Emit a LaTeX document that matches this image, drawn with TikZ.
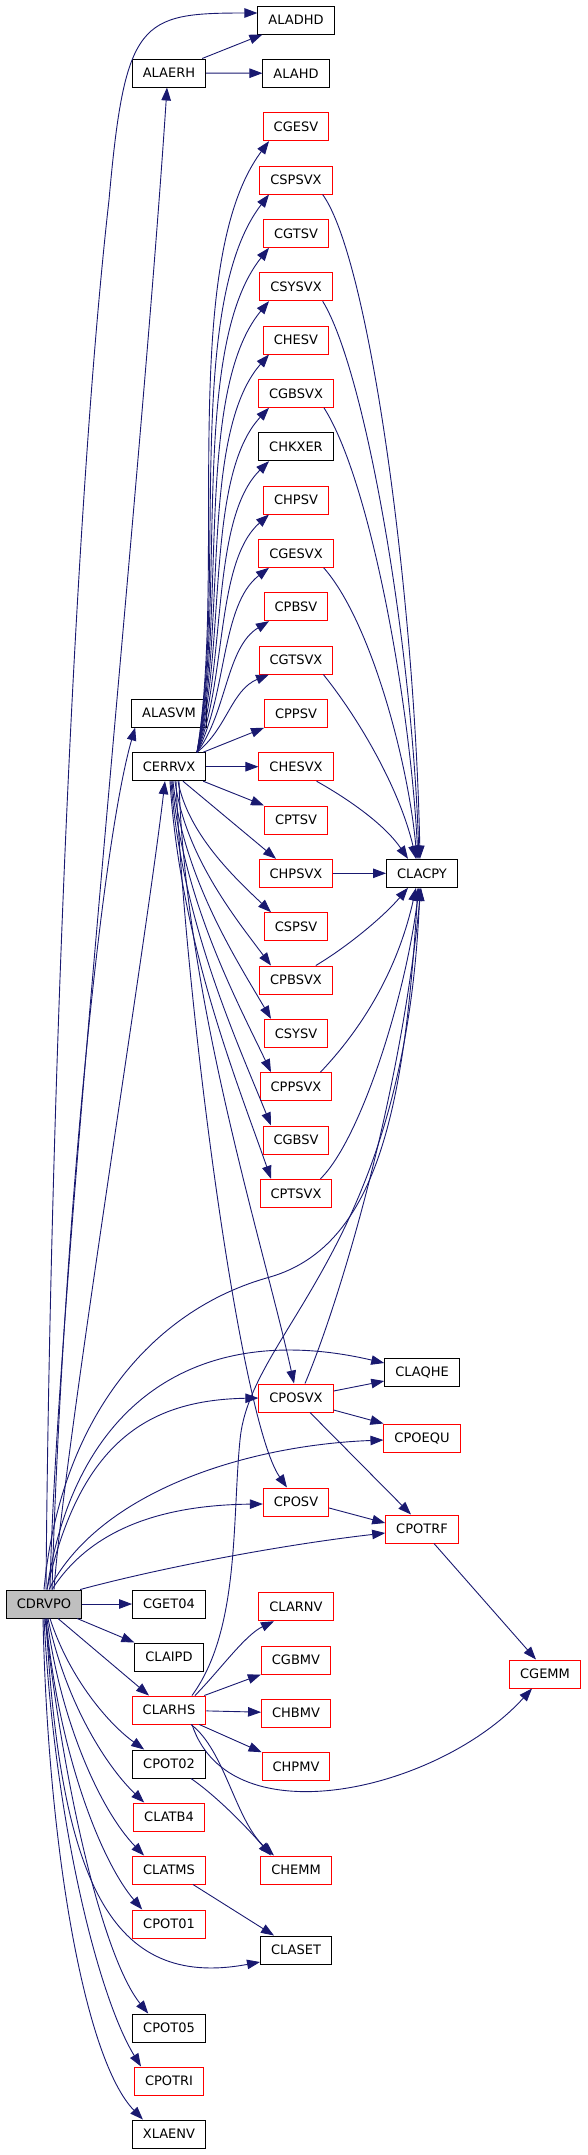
\documentclass[tikz,border=0pt]{standalone}
\usepackage{fontspec}
\setmainfont{DejaVu Sans}
\usetikzlibrary{arrows.meta,calc}
\definecolor{edgec}{HTML}{191970}
\definecolor{redb}{HTML}{FF0000}
\definecolor{grayf}{HTML}{BFBFBF}
\tikzset{
  fnbox/.style={line width=1pt, minimum height=28pt, inner xsep=10.5pt, inner ysep=0pt,
    font=\fontsize{13}{14}\selectfont, fill=white},
  kbox/.style={fnbox, draw=black},
  rbox/.style={fnbox, draw=redb},
  rootbox/.style={fnbox, draw=black, fill=grayf},
  conn/.style={draw=edgec, line width=0.9pt, -{Triangle[length=13pt,width=9.5pt]}}
}
\begin{document}
\begin{tikzpicture}[x=1pt,y=-1pt]
\useasboundingbox (0,0) rectangle (587,2155);
% column 2
\node[kbox] (alaerh) at (169,73) {ALAERH};
\node[kbox] (alasvm) at (169,713) {ALASVM};
\node[kbox] (cerrvx) at (169,766.7) {CERRVX};
\node[kbox] (cget04) at (169,1604) {CGET04};
\node[kbox] (claipd) at (169,1657) {CLAIPD};
\node[rbox] (clarhs) at (169,1710) {CLARHS};
\node[kbox] (cpot02) at (169,1764) {CPOT02};
\node[rbox] (clatb4) at (169,1817) {CLATB4};
\node[rbox] (clatms) at (169,1870) {CLATMS};
\node[rbox] (cpot01) at (169,1924) {CPOT01};
\node[kbox] (cpot05) at (169,2028) {CPOT05};
\node[rbox] (cpotri) at (169,2081) {CPOTRI};
\node[kbox] (xlaenv) at (169,2134) {XLAENV};
% column 3
\node[kbox] (aladhd) at (296,20) {ALADHD};
\node[kbox] (alahd) at (296,73.3) {ALAHD};
\node[rbox] (cgesv) at (296,126.7) {CGESV};
\node[rbox] (cspsvx) at (296,180) {CSPSVX};
\node[rbox] (cgtsv) at (296,233.3) {CGTSV};
\node[rbox] (csysvx) at (296,286.7) {CSYSVX};
\node[rbox] (chesv) at (296,340) {CHESV};
\node[rbox] (cgbsvx) at (296,393.3) {CGBSVX};
\node[kbox] (chkxer) at (296,446.7) {CHKXER};
\node[rbox] (chpsv) at (296,500) {CHPSV};
\node[rbox] (cgesvx) at (296,553.3) {CGESVX};
\node[rbox] (cpbsv) at (296,606.7) {CPBSV};
\node[rbox] (cgtsvx) at (296,660) {CGTSVX};
\node[rbox] (cppsv) at (296,713.3) {CPPSV};
\node[rbox] (chesvx) at (296,766.7) {CHESVX};
\node[rbox] (cptsv) at (296,820) {CPTSV};
\node[rbox] (chpsvx) at (296,873.3) {CHPSVX};
\node[rbox] (cspsv) at (296,926.7) {CSPSV};
\node[rbox] (cpbsvx) at (296,980) {CPBSVX};
\node[rbox] (csysv) at (296,1033.3) {CSYSV};
\node[rbox] (cppsvx) at (296,1086.7) {CPPSVX};
\node[rbox] (cgbsv) at (296,1140) {CGBSV};
\node[rbox] (cptsvx) at (296,1193.3) {CPTSVX};
\node[rbox] (cposvx) at (296,1398) {CPOSVX};
\node[rbox] (cposv) at (296,1502) {CPOSV};
\node[rbox] (clarnv) at (296,1606.7) {CLARNV};
\node[rbox] (cgbmv) at (296,1660) {CGBMV};
\node[rbox] (chbmv) at (296,1713) {CHBMV};
\node[rbox] (chpmv) at (296,1766.7) {CHPMV};
\node[rbox] (chemm) at (296,1870) {CHEMM};
\node[kbox] (claset) at (296,1950) {CLASET};
% column 4, 5
\node[kbox] (clacpy) at (422,873.3) {CLACPY};
\node[kbox] (claqhe) at (422,1372) {CLAQHE};
\node[rbox] (cpoequ) at (422,1438) {CPOEQU};
\node[rbox] (cpotrf) at (422,1529) {CPOTRF};
\node[rbox] (cgemm) at (545,1674) {CGEMM};
% root
\node[rootbox] (cdrvpo) at (44,1604) {CDRVPO};

% ALAERH
\draw[conn] ([xshift=-4pt]alaerh.north east) -- ([xshift=5pt]aladhd.south west);
\draw[conn] (alaerh) -- (alahd);

% CDRVPO upward
\draw[conn] ([xshift=2pt]cdrvpo.north) .. controls (50,1100) and (75,500) .. (109,200)
  .. controls (125,20) and (140,13) .. ($(aladhd.west)+(0,-7)$);
\draw[conn] ([xshift=6pt]cdrvpo.north) .. controls (56,1300) and (140,500) .. ([xshift=-2pt]alaerh.south);
\draw[conn] ([xshift=8pt]cdrvpo.north) .. controls (62,1250) and (100,850) .. ([xshift=4pt]alasvm.south west);
\draw[conn] ([xshift=10pt]cdrvpo.north) .. controls (64,1450) and (145,950) .. ([xshift=-4pt]cerrvx.south);
\draw[conn] (cdrvpo.north) .. controls (60,1420) and (150,1310) .. (270,1277)
  .. controls (380,1245) and (405,1100) .. ([xshift=-4pt]clacpy.south);
\draw[conn] ([xshift=3pt]cdrvpo.north) .. controls (75,1400) and (200,1320) .. ($(claqhe.west)+(0,-9)$);
\draw[conn] ([xshift=3pt]cdrvpo.north) .. controls (80,1440) and (150,1400) .. (cposvx.west);
\draw[conn] ([xshift=5pt]cdrvpo.north) .. controls (100,1490) and (250,1445) .. ($(cpoequ.west)+(0,2)$);
\draw[conn] ([xshift=8pt]cdrvpo.north) .. controls (90,1530) and (160,1505) .. ($(cposv.west)+(0,2)$);
\draw[conn] ([xshift=-2pt]cdrvpo.north east) .. controls (160,1568) and (280,1545) .. ($(cpotrf.west)+(0,4)$);

% CDRVPO right / downward
\draw[conn] (cdrvpo) -- (cget04);
\draw[conn] ([xshift=-5pt]cdrvpo.south east) -- (claipd.north west);
\draw[conn] ([xshift=14pt]cdrvpo.south) -- ([xshift=-20pt]clarhs.north);
\draw[conn] ([xshift=6pt]cdrvpo.south) .. controls (70,1680) and (110,1725) .. ([xshift=12pt]cpot02.north west);
\draw[conn] ([xshift=4pt]cdrvpo.south) .. controls (65,1700) and (105,1765) .. ([xshift=11pt]clatb4.north west);
\draw[conn] ([xshift=3pt]cdrvpo.south) .. controls (60,1720) and (100,1810) .. ([xshift=12pt]clatms.north west);
\draw[conn] ([xshift=2pt]cdrvpo.south) .. controls (58,1750) and (100,1860) .. ([xshift=10pt]cpot01.north west);
\draw[conn] ([xshift=2pt]cdrvpo.south) .. controls (60,1880) and (110,1990) .. ($(claset.west)+(0,12)$);
\draw[conn] ([xshift=1pt]cdrvpo.south) .. controls (65,1800) and (105,1960) .. ([xshift=16pt]cpot05.north west);
\draw[conn] (cdrvpo.south) .. controls (55,1830) and (100,2000) .. ([xshift=7pt]cpotri.north west);
\draw[conn] ([xshift=-1pt]cdrvpo.south) .. controls (48,1850) and (85,2060) .. ([xshift=11pt]xlaenv.north west);

% CERRVX upward fan
\foreach \t/\d in {cgesv/611, cspsvx/558, cgtsv/505, csysvx/451, chesv/398, cgbsvx/345,
                   chkxer/291, chpsv/238, cgesvx/185, cpbsv/131, cgtsvx/78}
  \draw[conn] ([xshift=28pt]cerrvx.north) .. controls +(30,{-0.3*\d}) and +({-30-0.1*\d},{0.2*\d})
    .. ($(\t.south)+(-27,0)$);
\draw[conn] ([xshift=-3pt]cerrvx.north east) -- (cppsv.south west);
\draw[conn] (cerrvx) -- (chesvx);
\draw[conn] ([xshift=-3pt]cerrvx.south east) -- (cptsv.north west);
\draw[conn] ([xshift=14pt]cerrvx.south) -- ([xshift=-20pt]chpsvx.north);
% CERRVX downward fan
\foreach \t/\xs/\d in {cspsv/9/133, cpbsvx/6/186, csysv/4/239, cppsvx/3/293, cgbsv/2/346, cptsvx/1/399}
  \draw[conn] ([xshift=\xs pt]cerrvx.south) .. controls +(10,{0.4*\d}) and +(-35,{-0.25*\d})
    .. ($(\t.north)+(-25,0)$);
\draw[conn] ([xshift=10pt]cerrvx.south) .. controls (185,1000) and (265,1250) .. ([xshift=-2pt]cposvx.north);
\draw[conn] ([xshift=7pt]cerrvx.south) .. controls (185,1000) and (240,1420) .. ([xshift=-9pt]cposv.north);

% into CLACPY from above
\draw[conn] ([xshift=-10pt]cspsvx.south east) .. controls (370,260) and (415,600) .. ([xshift=-2pt]clacpy.north);
\draw[conn] ([xshift=-10pt]csysvx.south east) .. controls (365,370) and (412,640) .. ([xshift=-3pt]clacpy.north);
\draw[conn] ([xshift=-10pt]cgbsvx.south east) .. controls (370,480) and (410,700) .. ([xshift=-4pt]clacpy.north);
\draw[conn] ([xshift=-10pt]cgesvx.south east) .. controls (370,620) and (408,760) .. ([xshift=-5pt]clacpy.north);
\draw[conn] ([xshift=-10pt]cgtsvx.south east) .. controls (360,720) and (400,790) .. ([xshift=-6pt]clacpy.north);
\draw[conn] ([xshift=-17pt]chesvx.south east) .. controls (350,800) and (385,825) .. ([xshift=-14pt]clacpy.north);
\draw[conn] (chpsvx) -- (clacpy);
% into CLACPY from below
\draw[conn] ([xshift=-17pt]cpbsvx.north east) .. controls (350,945) and (385,915) .. ([xshift=-14pt]clacpy.south);
\draw[conn] ([xshift=-12pt]cppsvx.north east) .. controls (370,1020) and (400,960) .. ([xshift=-6pt]clacpy.south);
\draw[conn] ([xshift=-12pt]cptsvx.north east) .. controls (360,1140) and (405,1000) .. ([xshift=-3pt]clacpy.south);
\draw[conn] ([xshift=9pt]cposvx.north) .. controls (340,1300) and (400,1100) .. ([xshift=-1pt]clacpy.south);
\draw[conn] ([xshift=23pt]clarhs.north) .. controls (240,1630) and (232,1520) .. (240,1440)
  .. controls (250,1330) and (405,1250) .. ([xshift=-2pt]clacpy.south);

% CPOSVX, CPOSV, CPOTRF
\draw[conn] ($(cposvx.east)+(0,-7)$) -- ($(claqhe.west)+(0,9)$);
\draw[conn] ($(cposvx.east)+(0,12)$) -- (cpoequ.north west);
\draw[conn] ([xshift=14pt]cposvx.south) -- ([xshift=-11pt]cpotrf.north);
\draw[conn] ($(cposv.east)+(0,6)$) -- ($(cpotrf.west)+(0,-6)$);
\draw[conn] ([xshift=12pt]cpotrf.south) -- ([xshift=-9pt]cgemm.north);

% CLARHS
\draw[conn] ([xshift=26pt]clarhs.north) .. controls (220,1670) and (245,1635) .. ([xshift=-22pt]clarnv.south);
\draw[conn] ([xshift=-2pt]clarhs.north east) -- (cgbmv.south west);
\draw[conn] (clarhs) -- (chbmv);
\draw[conn] ([xshift=-7pt]clarhs.south east) -- (chpmv.north west);
\draw[conn] ([xshift=22pt]clarhs.south) .. controls (225,1750) and (235,1820) .. ([xshift=-22pt]chemm.north);
\draw[conn] ([xshift=23pt]clarhs.south) .. controls (230,1840) and (440,1790) .. ([xshift=-13pt]cgemm.south);
\draw[conn] ([xshift=22pt]cpot02.south) .. controls (215,1795) and (245,1825) .. ([xshift=-25pt]chemm.north);
\draw[conn] ([xshift=24pt]clatms.south) -- ([xshift=-22pt]claset.north);
\end{tikzpicture}
\end{document}
